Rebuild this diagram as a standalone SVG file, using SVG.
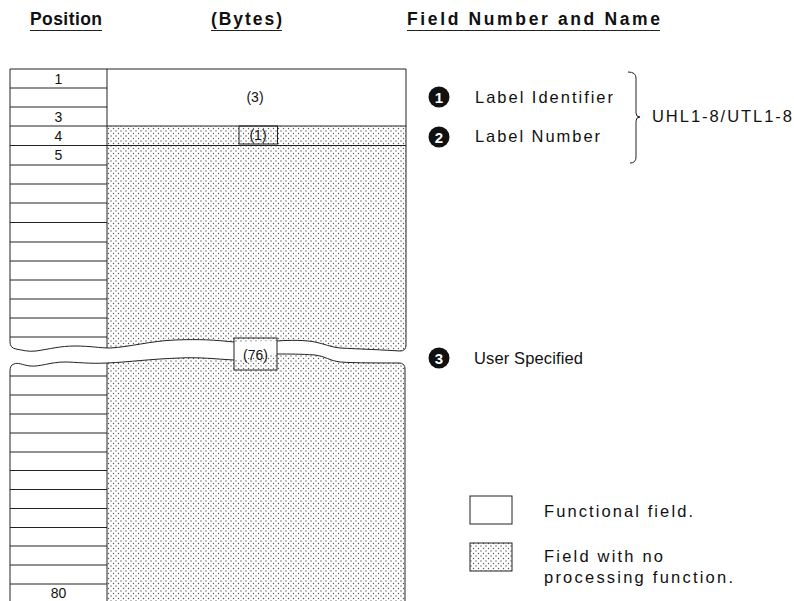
<svg xmlns="http://www.w3.org/2000/svg" width="794" height="601" viewBox="0 0 794 601">
<style>
.hd{font-family:"Liberation Sans",Arial,sans-serif;font-weight:bold;font-size:17.5px;fill:#111}
.lb{font-family:"Liberation Sans",Arial,sans-serif;font-size:16.5px;fill:#111}
.sm{font-family:"Liberation Sans",Arial,sans-serif;font-size:14px;fill:#111;text-anchor:middle}
.ln{stroke:#222;stroke-width:1;fill:none}
.dot{fill:url(#dots)}
.num{font-family:"Liberation Sans",Arial,sans-serif;font-weight:bold;font-size:15px;fill:#fff;text-anchor:middle}
</style>
<defs>
<pattern id="dots" width="5" height="5" patternUnits="userSpaceOnUse">
<rect width="5" height="5" fill="#fff"/>
<circle cx="1" cy="1" r="0.7" fill="#555"/>
<circle cx="3.5" cy="3.5" r="0.7" fill="#555"/>
</pattern>
</defs>
<rect width="794" height="601" fill="#fff"/>

<g id="headers">
<text class="hd" x="30" y="25" textLength="72">Position</text>
<line class="ln" x1="30" y1="30.5" x2="102" y2="30.5"/>
<text class="hd" x="211" y="25" textLength="71">(Bytes)</text>
<line class="ln" x1="211" y1="30.5" x2="282" y2="30.5"/>
<text class="hd" x="407" y="25" textLength="253">Field Number and Name</text>
<line class="ln" x1="407" y1="30.5" x2="660" y2="30.5"/>
</g>

<g id="upper-record">
<rect x="107" y="69" width="299" height="57" fill="#fff"/>
<path class="dot" d="M107,126 H406 V345 Q406,351 400,351 C385,350 360,349 340,348 C330,347 325,344 315,342 C305,340 290,340 277,341 L234,342 C215,340 200,339 175,340 C150,341 130,347 107,348 Z"/>
<path class="ln" d="M10,69 H406 V345 Q406,351 400,351 C385,350 360,349 340,348 C330,347 325,344 315,342 C305,340 290,340 277,341"/>
<path class="ln" d="M234,342 C215,340 200,339 175,340 C150,341 130,347 110,348 C100,348 90,346 75,346 C60,346 50,349 36,351 C28,352 22,350 16,349 Q10,348 10,342 V69"/>
<line class="ln" x1="107" y1="69" x2="107" y2="348"/>
<line class="ln" x1="10" y1="126" x2="406" y2="126"/>
<line class="ln" x1="10" y1="145.5" x2="406" y2="145.5"/>
<g class="ln">
<line x1="10" y1="88" x2="107" y2="88"/>
<line x1="10" y1="107" x2="107" y2="107"/>
<line x1="10" y1="165" x2="107" y2="165"/>
<line x1="10" y1="184" x2="107" y2="184"/>
<line x1="10" y1="203" x2="107" y2="203"/>
<line x1="10" y1="222.5" x2="107" y2="222.5"/>
<line x1="10" y1="242" x2="107" y2="242"/>
<line x1="10" y1="261" x2="107" y2="261"/>
<line x1="10" y1="280" x2="107" y2="280"/>
<line x1="10" y1="299" x2="107" y2="299"/>
<line x1="10" y1="318" x2="107" y2="318"/>
<line x1="10" y1="337" x2="107" y2="337"/>
</g>
<text class="sm" x="58.5" y="83.5">1</text>
<text class="sm" x="58.5" y="121.5">3</text>
<text class="sm" x="58.5" y="140.5">4</text>
<text class="sm" x="58.5" y="160">5</text>
<text class="sm" x="255" y="102">(3)</text>
<rect class="ln" x="239" y="126" width="38.5" height="18" fill="#fff"/>
<text class="sm" x="258" y="140">(1)</text>
</g>

<g id="lower-record">
<path class="dot" d="M107,363 C130,362 150,359 180,358 C200,357 215,359 234,360 L277,354 C290,354 300,354 315,355 C325,356 330,361 340,362 C355,363 380,363 399,363 Q405,363 405,369 V601 H107 Z"/>
<path class="ln" d="M277,354 C290,354 300,354 315,355 C325,356 330,361 340,362 C355,363 380,363 399,363 Q405,363 405,369 V601"/>
<path class="ln" d="M234,360 C215,359 200,357 180,358 C150,359 130,362 107,363 C90,364 75,362 65,362 C50,362 40,367 30,366 C22,365 18,362 14,364 Q10,365 10,371 V601"/>
<line class="ln" x1="107" y1="363" x2="107" y2="601"/>
<g class="ln">
<line x1="10" y1="376" x2="107" y2="376"/>
<line x1="10" y1="395" x2="107" y2="395"/>
<line x1="10" y1="414" x2="107" y2="414"/>
<line x1="10" y1="433" x2="107" y2="433"/>
<line x1="10" y1="452" x2="107" y2="452"/>
<line x1="10" y1="470.5" x2="107" y2="470.5"/>
<line x1="10" y1="489.5" x2="107" y2="489.5"/>
<line x1="10" y1="508.5" x2="107" y2="508.5"/>
<line x1="10" y1="527.5" x2="107" y2="527.5"/>
<line x1="10" y1="546" x2="107" y2="546"/>
<line x1="10" y1="565" x2="107" y2="565"/>
<line x1="10" y1="584" x2="107" y2="584"/>
</g>
<text class="sm" x="58.5" y="598">80</text>
</g>

<g id="break-box">
<rect class="ln" x="234" y="338" width="43" height="32" fill="#fff"/>
<text class="sm" x="255.5" y="359.5" font-size="15">(76)</text>
</g>

<g id="field-1">
<circle cx="439" cy="97" r="10.5" fill="#111"/>
<text class="num" x="439" y="102.5">1</text>
<text class="lb" x="475" y="103" textLength="138">Label Identifier</text>
</g>
<g id="field-2">
<circle cx="439" cy="137" r="10.5" fill="#111"/>
<text class="num" x="439" y="142.5">2</text>
<text class="lb" x="475" y="142" textLength="125">Label Number</text>
</g>
<g id="field-3">
<circle cx="439" cy="358" r="10.5" fill="#111"/>
<text class="num" x="439" y="363.5">3</text>
<text class="lb" x="474" y="364" textLength="109">User Specified</text>
</g>

<g id="connectors">
<path class="ln" d="M628,72 Q636,72 636,78 V113 Q636,117 640,117 Q636,117 636,121 V157 Q636,163 630,163"/>
</g>
<g id="group-label">
<text class="lb" x="652" y="122" textLength="140">UHL1-8/UTL1-8</text>
</g>

<g id="legend">
<rect class="ln" x="470" y="496" width="42" height="28" fill="#fff"/>
<text class="lb" x="544" y="517" textLength="149">Functional field.</text>
<rect class="ln dot" x="470" y="543" width="42" height="28"/>
<text class="lb" x="544" y="562" textLength="119">Field with no</text>
<text class="lb" x="544" y="583" textLength="189">processing function.</text>
</g>
</svg>
